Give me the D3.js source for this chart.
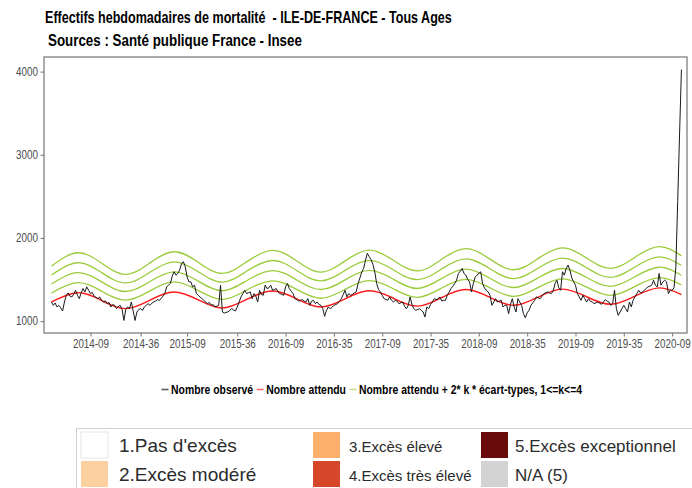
<!DOCTYPE html>
<html><head><meta charset="utf-8">
<script src="https://cdn.jsdelivr.net/npm/d3@7"></script>
<style>
html,body{margin:0;padding:0;background:#fff;}
svg{display:block;}
text{white-space:pre;}
</style></head><body><svg id="chart" width="692" height="488"></svg>
<script>
// ---------- DATA ----------
const titleText = "Effectifs hebdomadaires de mortalité  - ILE-DE-FRANCE - Tous Ages";
const subtitleText = "Sources : Santé publique France - Insee";

// ISO weeks covered: [year, first week, last week]
const weekSpans = [[2013,40,52],[2014,1,52],[2015,1,53],[2016,1,52],[2017,1,52],[2018,1,52],[2019,1,52],[2020,1,14]];

const xTickLabels = ["2014-09","2014-36","2015-09","2015-36","2016-09","2016-35","2017-09","2017-35","2018-09","2018-35","2019-09","2019-35","2020-09"];
const yTickValues = [1000,2000,3000,4000];

const observed = [
1230,1190,1218,1170,1190,1160,1122,1230,1311,1339,
1300,1291,1323,1371,1311,1270,1340,1392,1351,1412,
1371,1331,1345,1299,1285,1270,1291,1250,1230,1245,
1210,1225,1170,1200,1190,1150,1175,1190,1140,1008,
1140,1170,1150,1230,1120,1008,1110,1140,1150,1130,
1170,1190,1210,1190,1215,1230,1240,1258,1250,1270,
1300,1331,1412,1432,1452,1540,1593,1553,1573,1613,
1694,1714,1654,1532,1472,1472,1412,1432,1331,1311,
1290,1270,1250,1230,1210,1225,1190,1200,1170,1180,
1190,1432,1110,1097,1105,1110,1130,1150,1135,1122,
1170,1230,1291,1330,1371,1331,1340,1351,1270,1331,
1300,1230,1371,1320,1311,1432,1392,1400,1432,1371,
1380,1392,1350,1331,1320,1311,1412,1452,1392,1360,
1331,1270,1260,1240,1250,1258,1240,1230,1270,1190,
1240,1250,1210,1230,1200,1190,1150,1057,1130,1170,
1150,1165,1190,1200,1210,1240,1270,1320,1371,1291,
1331,1310,1323,1340,1351,1452,1520,1590,1633,1734,
1815,1775,1740,1680,1593,1452,1380,1351,1311,1270,
1260,1250,1291,1250,1230,1250,1240,1210,1220,1230,
1180,1150,1190,1291,1200,1150,1130,1140,1150,1130,
1110,1049,1170,1150,1200,1230,1270,1258,1265,1291,
1242,1250,1250,1311,1350,1392,1420,1452,1492,1573,
1600,1633,1573,1553,1500,1472,1351,1452,1530,1553,
1573,1593,1452,1400,1371,1351,1311,1190,1230,1270,
1230,1240,1250,1170,1190,1190,1089,1200,1270,1170,
1110,1270,1230,1190,1089,1041,1100,1130,1190,1220,
1250,1291,1280,1270,1300,1331,1340,1351,1339,1331,
1363,1452,1492,1400,1371,1593,1553,1633,1674,1613,
1520,1472,1432,1331,1291,1250,1311,1270,1230,1270,
1240,1230,1210,1220,1230,1215,1202,1230,1258,1240,
1230,1190,1210,1371,1150,1069,1110,1150,1190,1150,
1110,1230,1170,1250,1291,1331,1371,1340,1351,1370,
1392,1412,1420,1432,1492,1430,1412,1573,1432,1470,
1492,1472,1331,1371,1371,1400,1650,2450,3250,4025
];

// expected deaths and standard deviation at seasonal key weeks
const expectedWeeks = ["2013-40","2014-02","2014-15","2014-28","2014-41","2015-02","2015-15","2015-28","2015-41",
  "2016-02","2016-15","2016-28","2016-41","2017-02","2017-15","2017-28","2017-41","2018-02","2018-15","2018-28","2018-41",
  "2019-02","2019-15","2019-28","2019-41","2020-02","2020-14"];
const expectedValues = [1230,1342,1248,1150,1252,1350,1255,1157,1260,
  1363,1267,1170,1268,1365,1275,1180,1283,1380,1285,1190,1290,
  1385,1293,1202,1300,1400,1320];
const sdValues = [54,60,56,51.5,56,60.5,56.5,52,56.5,
  61,57,52.5,57,61,57,53,57.5,61.5,57.5,53.5,58,
  62,58,54,58.5,62,58];
const kValues = [1,2,3,4];

const legendLabels = ["Nombre observé","Nombre attendu","Nombre attendu + 2* k * écart-types, 1<=k<=4"];
const legendColors = ["#5a5a5a","#ff6b6b","#c2e08e"];

const classLabels = ["1.Pas d'excès","2.Excès modéré","3.Excès élevé","4.Excès très élevé","5.Excès exceptionnel","N/A (5)"];
const classColors = ["#ffffff","#fdd0a2","#fdb06c","#d6472a","#6a0b0b","#d3d3d3"];

// ---------- BUILD ----------
const weeks = [];
weekSpans.forEach(([yr,a,b]) => { for (let w=a; w<=b; w++) weeks.push(yr+"-"+String(w).padStart(2,"0")); });

const SANS = "'Liberation Sans',Arial,sans-serif";
const NX = 0.82; // horizontal squeeze to mimic Arial Narrow
function narrow(sel, sx){
  sel.each(function(){
    const t = d3.select(this);
    const x0 = +t.attr("x") || 0, y0 = +t.attr("y") || 0;
    t.attr("x",0).attr("y",0).attr("transform",`translate(${x0},${y0}) scale(${sx || NX},1)`)
     .attr("font-family",SANS);
  });
}

const svg = d3.select("#chart");
svg.append("rect").attr("width",692).attr("height",488).attr("fill","#fff");

const P = {l:44, r:687, t:57, b:333};

const x = d3.scaleLinear().domain([-4, weeks.length + 2]).range([P.l, P.r]);
const [mn, mx] = d3.extent(observed);
const pad = (mx - mn) * 0.05;
const y = d3.scaleLinear().domain([mn - pad, mx + pad]).range([P.b, P.t]);

// titles (condensed bold; squeezed to the reference line widths)
function titleLine(txt, x0, y0, w){
  const t = svg.append("text").attr("x",x0).attr("y",y0).attr("font-weight","bold")
    .attr("font-size",15.8).attr("fill","#000").attr("font-family",SANS).text(txt);
  const natural = t.node().getComputedTextLength();
  t.call(narrow, w / natural);
}
titleLine(titleText, 45, 23, 407);
titleLine(subtitleText, 48, 46, 254);

// clip
svg.append("clipPath").attr("id","clip").append("rect")
  .attr("x",P.l).attr("y",P.t).attr("width",P.r-P.l).attr("height",P.b-P.t);
const plot = svg.append("g").attr("clip-path","url(#clip)");

const expPts = expectedWeeks.map((w,i) => ({i: weeks.indexOf(w), v: expectedValues[i], sd: sdValues[i]}));

// green bands
kValues.forEach(k => {
  plot.append("path")
    .attr("d", d3.line().curve(d3.curveNatural).x(d=>x(d.i)).y(d=>y(d.v + 2*k*d.sd))(expPts))
    .attr("fill","none").attr("stroke","#9ccc3c").attr("stroke-width",1.3);
});
// expected
plot.append("path")
  .attr("d", d3.line().curve(d3.curveNatural).x(d=>x(d.i)).y(d=>y(d.v))(expPts))
  .attr("fill","none").attr("stroke","#ff1a1a").attr("stroke-width",1.4);
// observed
plot.append("path")
  .attr("d", d3.line().x((d,i)=>x(i)).y(d=>y(d))(observed))
  .attr("fill","none").attr("stroke","#1a1a1a").attr("stroke-width",1).attr("stroke-linejoin","round");

// panel border
svg.append("rect").attr("x",P.l).attr("y",P.t).attr("width",P.r-P.l).attr("height",P.b-P.t)
  .attr("fill","none").attr("stroke","#7f7f7f").attr("stroke-width",1.3);

// y axis
const yAxis = svg.append("g").attr("transform",`translate(${P.l},0)`)
  .call(d3.axisLeft(y).tickValues(yTickValues).tickSize(3.5).tickPadding(2.5).tickFormat(d3.format("d")));
yAxis.select(".domain").remove();
yAxis.selectAll(".tick line").attr("stroke","#7f7f7f").attr("stroke-width",1.1);
yAxis.selectAll(".tick text").attr("font-size",12).attr("fill","#4d4d4d").call(narrow);

// x axis
const xAxis = svg.append("g").attr("transform",`translate(0,${P.b})`)
  .call(d3.axisBottom(x).tickValues(xTickLabels.map(l => weeks.indexOf(l)))
    .tickFormat(d => weeks[d]).tickSize(3.5).tickPadding(3));
xAxis.select(".domain").remove();
xAxis.selectAll(".tick line").attr("stroke","#7f7f7f").attr("stroke-width",1.1);
xAxis.selectAll(".tick text").attr("font-size",12).attr("fill","#4d4d4d").call(narrow);

// middle legend
let lx = 161.5;
const ly = 389.5;
legendLabels.forEach((lab,i) => {
  svg.append("line").attr("x1",lx).attr("x2",lx+7).attr("y1",ly).attr("y2",ly)
    .attr("stroke",legendColors[i]).attr("stroke-width",1.6);
  const t = svg.append("text").attr("x",lx+9.5).attr("y",ly+4.3)
    .attr("font-weight","bold").attr("font-size",12.7).attr("fill","#000").text(lab).call(narrow);
  lx += 9.5 + t.node().getComputedTextLength() * NX + 3.5;
});

// bottom class legend (image-like)
const lg = svg.append("g");
lg.append("rect").attr("x",76.5).attr("y",428.5).attr("width",640).attr("height",80)
  .attr("fill","#fff").attr("stroke","#d0d0d0").attr("stroke-width",1);
const colX = [81, 313, 481];
const rowY = [432, 461];
const textX = [119, 349, 515];
const fontSz = [19, 15, 17];
classLabels.forEach((lab,i) => {
  const c = Math.floor(i/2), r = i%2;
  lg.append("rect").attr("x",colX[c]).attr("y",rowY[r]).attr("width",27).attr("height",26)
    .attr("fill",classColors[i]).attr("stroke", i===0 ? "#e6e6e6" : "none");
  lg.append("text").attr("x",textX[c]).attr("y",rowY[r]+20).attr("font-family",SANS)
    .attr("font-size",fontSz[c]).attr("fill","#2b2b2b").text(lab);
});
</script></body></html>
